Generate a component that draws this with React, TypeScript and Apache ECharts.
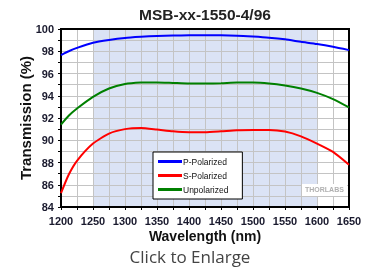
import React, { useEffect, useRef } from "react";
import * as echarts from "echarts";

const wavelengths = [1200, 1212, 1225, 1250, 1275, 1300, 1325, 1350, 1375, 1400, 1425, 1450, 1475, 1500, 1525, 1550, 1575, 1600, 1625, 1650];
const pPolarized = [97.66, 98.0, 98.3, 98.77, 99.02, 99.2, 99.3, 99.38, 99.42, 99.43, 99.43, 99.43, 99.4, 99.32, 99.22, 99.07, 98.85, 98.65, 98.4, 98.1];
const sPolarized = [85.25, 86.9, 88.15, 89.7, 90.6, 91.0, 91.1, 90.96, 90.8, 90.72, 90.72, 90.8, 90.9, 90.92, 90.92, 90.78, 90.35, 89.7, 88.95, 87.8];
const unpolarized = [91.41, 92.2, 92.85, 93.9, 94.65, 95.05, 95.18, 95.2, 95.15, 95.1, 95.1, 95.12, 95.18, 95.18, 95.1, 94.92, 94.65, 94.26, 93.7, 92.95];
const shadedRange = [1250, 1600];
const seriesNames = ["P-Polarized", "S-Polarized", "Unpolarized"];

const toPairs = (vals: number[]) => wavelengths.map((w, i) => [w, vals[i]]);

export default function App() {
  const ref = useRef<HTMLDivElement>(null);
  useEffect(() => {
    if (!ref.current) return;
    const chart = echarts.init(ref.current, null, { renderer: "svg" });
    const font = "Arial, 'Liberation Sans', sans-serif";
    const lineSeries = (name: string, vals: number[], color: string) => ({
      name,
      type: "line",
      data: toPairs(vals),
      showSymbol: false,
      smooth: 0.2,
      lineStyle: { color, width: 2 },
      itemStyle: { color },
      z: 5,
    });
    chart.setOption({
      animation: false,
      grid: {
        left: 61,
        right: 26,
        top: 29,
        bottom: 62,
        show: true,
        borderColor: "#000",
        borderWidth: 2,
        backgroundColor: "transparent",
        z: 3,
      },
      xAxis: {
        type: "value",
        z: 2,
        min: 1200,
        max: 1650,
        interval: 50,
        name: "Wavelength (nm)",
        nameLocation: "middle",
        nameGap: 22,
        nameMoveOverlap: false,
        nameTextStyle: { fontFamily: font, fontSize: 14, fontWeight: "bold", color: "#111" },
        axisLine: { show: true, lineStyle: { color: "#000", width: 2 } },
        axisTick: { show: true, length: 3, lineStyle: { color: "#000" } },
        minorTick: { show: true, splitNumber: 2, length: 3, lineStyle: { color: "#000" } },
        axisLabel: {
          fontFamily: font,
          fontSize: 11,
          fontWeight: "bold",
          color: "#1a1a2e",
          margin: 8,
          formatter: (v: number) => String(v),
        },
        splitLine: { show: true, lineStyle: { color: "#c4c4c4", width: 1 } },
        minorSplitLine: { show: true, lineStyle: { color: "#c4c4c4", width: 1 } },
      },
      yAxis: {
        type: "value",
        z: 2,
        min: 84,
        max: 100,
        interval: 2,
        name: "Transmission (%)",
        nameLocation: "middle",
        nameGap: 28,
        nameMoveOverlap: false,
        nameTextStyle: { fontFamily: font, fontSize: 15, fontWeight: "bold", color: "#111" },
        axisLine: { show: true, lineStyle: { color: "#000", width: 2 } },
        axisTick: { show: true, length: 3, lineStyle: { color: "#000" } },
        minorTick: { show: true, splitNumber: 2, length: 3, lineStyle: { color: "#000" } },
        axisLabel: { fontFamily: font, fontSize: 11, fontWeight: "bold", color: "#1a1a2e", margin: 7 },
        splitLine: { show: true, lineStyle: { color: "#c4c4c4", width: 1 } },
        minorSplitLine: { show: true, lineStyle: { color: "#c4c4c4", width: 1 } },
      },
      legend: {
        data: seriesNames,
        orient: "vertical",
        left: 153,
        top: 152,
        z: 6,
        backgroundColor: "#fff",
        borderColor: "#000",
        borderWidth: 1,
        borderRadius: 0,
        padding: [5, 14, 5, 5],
        itemWidth: 24,
        itemHeight: 3,
        itemGap: 5,
        icon: "rect",
        textStyle: { fontFamily: font, fontSize: 8.5, color: "#111", padding: [0, 0, 0, -4] },
      },
      series: [
        {
          name: "shade",
          type: "line",
          data: [],
          z: 1,
          silent: true,
          markArea: {
            silent: true,
            itemStyle: { color: "#dbe3f5" },
            data: [[{ xAxis: shadedRange[0] }, { xAxis: shadedRange[1] }]],
          },
        },
        lineSeries(seriesNames[0], pPolarized, "#0000ff"),
        lineSeries(seriesNames[1], sPolarized, "#ff0000"),
        lineSeries(seriesNames[2], unpolarized, "#008000"),
      ],
      graphic: [
        {
          type: "text",
          x: 205,
          y: 14,
          style: {
            text: "MSB-xx-1550-4/96",
            fontFamily: font,
            fontSize: 15.5,
            fontWeight: "bold",
            fill: "#222",
            align: "center",
            verticalAlign: "middle",
          },
        },
        {
          type: "rect",
          shape: { x: 302, y: 184, width: 45, height: 12 },
          style: { fill: "#fff" },
          z: 10,
        },
        {
          type: "text",
          x: 305,
          y: 186,
          z: 11,
          style: { text: "THORLABS", fontFamily: font, fontSize: 7, fontWeight: "bold", fill: "#b0b0b0" },
        },
        {
          type: "text",
          x: 190,
          y: 256,
          style: {
            text: "Click to Enlarge",
            fontFamily: "'Open Sans', sans-serif",
            fontSize: 17,
            fill: "#444",
            align: "center",
            verticalAlign: "middle",
          },
        },
      ],
    });
    return () => chart.dispose();
  }, []);
  return <div ref={ref} style={{ position: "fixed", left: 0, top: 0, width: 375, height: 269 }} />;
}
